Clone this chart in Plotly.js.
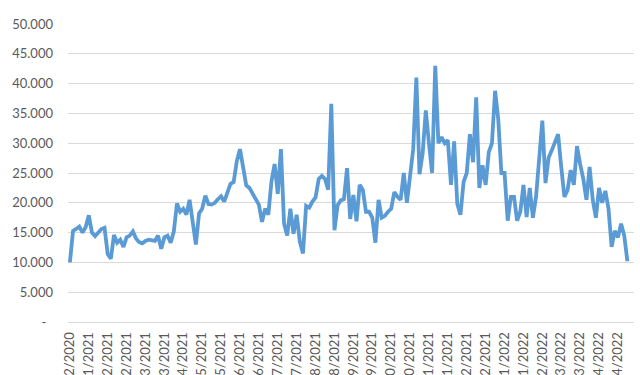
<!DOCTYPE html>
<html>
<head>
<meta charset="utf-8">
<script src="https://cdn.plot.ly/plotly-3.0.1.min.js"></script>
<style>
html, body { margin: 0; padding: 0; background: #ffffff; overflow: hidden; }
#chart { width: 640px; height: 375px; }
</style>
</head>
<body>
<div id="chart"></div>
<script>
// Series values
const values = [
  10000, 15300, 15600, 16000, 15000, 15900, 17900, 15000, 14400, 15000,
  15600, 15800, 11400, 10600, 14600, 13300, 13800, 12600, 14200, 14500,
  15200, 14000, 13400, 13200, 13600, 13800, 13700, 13600, 14500, 12300,
  14200, 14500, 13300, 15200, 19900, 18500, 19000, 18000, 20500, 16800,
  13000, 18200, 19000, 21200, 19800, 19700, 20000, 20600, 21100, 20200,
  21800, 23200, 23500, 27000, 29000, 25500, 22900, 22500, 21500, 20800,
  19700, 16800, 19000, 18000, 23600, 26500, 21500, 29000, 16500, 14500,
  19000, 14800, 18000, 13500, 11500, 19500, 19200, 20200, 20900, 24000,
  24500, 24000, 22200, 36600, 15400, 19600, 20400, 20600, 25800, 17300,
  21300, 16900, 23000, 22200, 18500, 18500, 17500, 13300, 20500, 17500,
  17800, 18500, 19000, 21800, 21000, 20500, 25000, 20000, 25000, 29000,
  41000, 24800, 28300, 35500, 30000, 25000, 43000, 30000, 31000, 30000,
  30500, 23000, 30300, 19800, 18000, 23500, 25000, 31500, 26800, 37700,
  22500, 26300, 23000, 28500, 30000, 38800, 34000, 25000, 25000, 17000,
  21000, 21000, 17000, 18500, 23000, 17600, 22500, 17500, 21000, 27000,
  33800, 23300, 27600, 28800, 30000, 31500, 26000, 21000, 22100, 25500,
  23000, 29500, 26500, 24000, 20500, 26000, 20500, 17500, 22500, 20000,
  22000, 19000, 12600, 15300, 14200, 16500, 14500, 10200
];

// Category labels shown on the x axis (one every LABEL_EVERY points)
const xTickLabels = [
  '28/12/2020', '15/01/2021', '02/02/2021', '24/02/2021', '12/03/2021',
  '30/03/2021', '16/04/2021', '07/05/2021', '25/05/2021', '11/06/2021',
  '29/06/2021', '13/07/2021', '30/07/2021', '16/08/2021', '31/08/2021',
  '15/09/2021', '30/09/2021', '15/10/2021', '29/10/2021', '15/11/2021',
  '30/11/2021', '15/12/2021', '30/12/2021', '14/01/2022', '28/01/2022',
  '21/02/2022', '09/03/2022', '24/03/2022', '08/04/2022', '26/04/2022'
];

// Value-axis ticks
const yTickValues = [0, 5000, 10000, 15000, 20000, 25000, 30000, 35000, 40000, 45000, 50000];
const yTickLabels = ['-\u00a0\u00a0', '5.000', '10.000', '15.000', '20.000', '25.000',
                     '30.000', '35.000', '40.000', '45.000', '50.000'];

const LABEL_EVERY = 6;
const xIndex = values.map((_, i) => i);
const xTickPositions = xTickLabels.map((_, k) => k * LABEL_EVERY);

const FONT = 'Lato, "Open Sans", sans-serif';

const trace = {
  type: 'scatter',
  mode: 'lines',
  x: xIndex,
  y: values,
  line: { color: '#5B9BD5', width: 3.8, shape: 'linear' },
  hoverinfo: 'skip'
};

const layout = {
  width: 640,
  height: 375,
  margin: { l: 68, r: 6, t: 24, b: 53, pad: 0 },
  paper_bgcolor: '#ffffff',
  plot_bgcolor: '#ffffff',
  showlegend: false,
  font: { family: FONT, size: 13, color: '#595959' },
  xaxis: {
    type: 'linear',
    range: [-0.6, 179.1],
    tickmode: 'array',
    tickvals: xTickPositions,
    ticktext: xTickLabels,
    tickangle: -90,
    tickfont: { family: FONT, size: 13, color: '#595959' },
    ticks: '',
    ticklabelstandoff: 4,
    showgrid: false,
    zeroline: false,
    showline: true,
    linecolor: '#d9d9d9',
    linewidth: 1,
    automargin: false,
    fixedrange: true
  },
  yaxis: {
    range: [0, 50000],
    tickmode: 'array',
    tickvals: yTickValues,
    ticktext: yTickLabels,
    tickfont: { family: FONT, size: 13, color: '#595959' },
    ticks: '',
    ticklabelstandoff: 14,
    showgrid: true,
    gridcolor: '#d9d9d9',
    gridwidth: 1,
    zeroline: false,
    showline: false,
    automargin: false,
    fixedrange: true
  }
};

Plotly.newPlot('chart', [trace], layout, { displayModeBar: false, staticPlot: true });
</script>
</body>
</html>
